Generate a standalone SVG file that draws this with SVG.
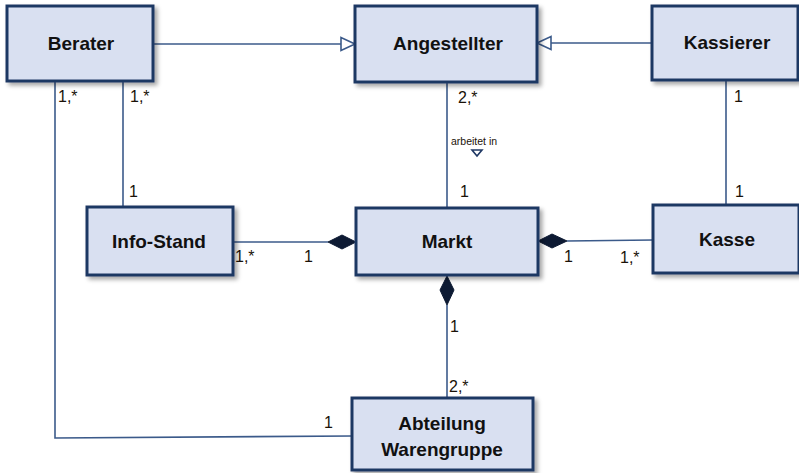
<svg xmlns="http://www.w3.org/2000/svg" width="799" height="473" viewBox="0 0 799 473">
<style>
.box{fill:#d9e0f1;stroke:#1f3864;stroke-width:3;filter:url(#sh)}
.name{font-family:"Liberation Sans",Arial,sans-serif;font-weight:bold;font-size:19px;fill:#111;text-anchor:middle}
.lbl{font-family:"Liberation Sans",Arial,sans-serif;font-size:16px;fill:#1a1208}
.small{font-family:"Liberation Sans",Arial,sans-serif;font-size:10.5px;fill:#1a1208}
.ln{fill:none;stroke:#3b5a8a;stroke-width:1.6}
.gen{fill:#fff;stroke:#3b5a8a;stroke-width:1.6}
.dia{fill:#0d1a33;stroke:#0d1a33;stroke-width:1}
</style>
<defs>
<filter id="sh" x="-10%" y="-10%" width="130%" height="140%">
<feDropShadow dx="3" dy="3" stdDeviation="2" flood-color="#000" flood-opacity="0.35"/>
</filter>
</defs>
<rect width="799" height="473" fill="#fff"/>
<g id="connectors">
<line class="ln" x1="153" y1="44" x2="341" y2="44"/>
<polygon class="gen" points="355,44 341,37.5 341,50.5"/>
<line class="ln" x1="652" y1="43" x2="551" y2="43"/>
<polygon class="gen" points="537,43 551,36.5 551,49.5"/>
<polyline class="ln" points="55,80 55,438 352,436"/>
<line class="ln" x1="123" y1="82" x2="123" y2="207"/>
<line class="ln" x1="447" y1="82" x2="447" y2="208"/>
<line class="ln" x1="726" y1="80" x2="726" y2="205"/>
<line class="ln" x1="233" y1="242" x2="328" y2="242"/>
<polygon class="dia" points="356,242 342,235 328,242 342,249"/>
<line class="ln" x1="567" y1="241" x2="653" y2="240"/>
<polygon class="dia" points="538,241 552,234 567,241 552,248"/>
<line class="ln" x1="447" y1="305" x2="447" y2="398"/>
<polygon class="dia" points="447,276 454,290 447,305 440,290"/>
<polygon points="472,150 482,150 477,156" fill="none" stroke="#1f3864" stroke-width="1.6"/>
</g>
<g id="labels">
<text class="lbl" x="58" y="102">1,*</text>
<text class="lbl" x="130" y="102">1,*</text>
<text class="lbl" x="129" y="197">1</text>
<text class="lbl" x="458" y="103">2,*</text>
<text class="small" x="451" y="145">arbeitet in</text>
<text class="lbl" x="460" y="197">1</text>
<text class="lbl" x="734" y="102">1</text>
<text class="lbl" x="735" y="197">1</text>
<text class="lbl" x="235" y="262">1,*</text>
<text class="lbl" x="304" y="262">1</text>
<text class="lbl" x="564" y="262">1</text>
<text class="lbl" x="620" y="263">1,*</text>
<text class="lbl" x="450" y="332">1</text>
<text class="lbl" x="449" y="392">2,*</text>
<text class="lbl" x="324" y="428">1</text>
</g>
<g id="berater"><rect class="box" x="7" y="6" width="146" height="75"/><text class="name" x="81" y="50">Berater</text></g>
<g id="angestellter"><rect class="box" x="355" y="6" width="182" height="76"/><text class="name" x="448" y="50">Angestellter</text></g>
<g id="kassierer"><rect class="box" x="652" y="6" width="146" height="74"/><text class="name" x="727" y="49">Kassierer</text></g>
<g id="infostand"><rect class="box" x="87" y="207" width="146" height="68"/><text class="name" x="159" y="248">Info-Stand</text></g>
<g id="markt"><rect class="box" x="356" y="208" width="182" height="67"/><text class="name" x="447" y="248">Markt</text></g>
<g id="kasse"><rect class="box" x="653" y="205" width="146" height="68"/><text class="name" x="727" y="246">Kasse</text></g>
<g id="abteilung"><rect class="box" x="352" y="398" width="181" height="72"/><text class="name" x="442" y="430">Abteilung</text><text class="name" x="442" y="456">Warengruppe</text></g>
</svg>
